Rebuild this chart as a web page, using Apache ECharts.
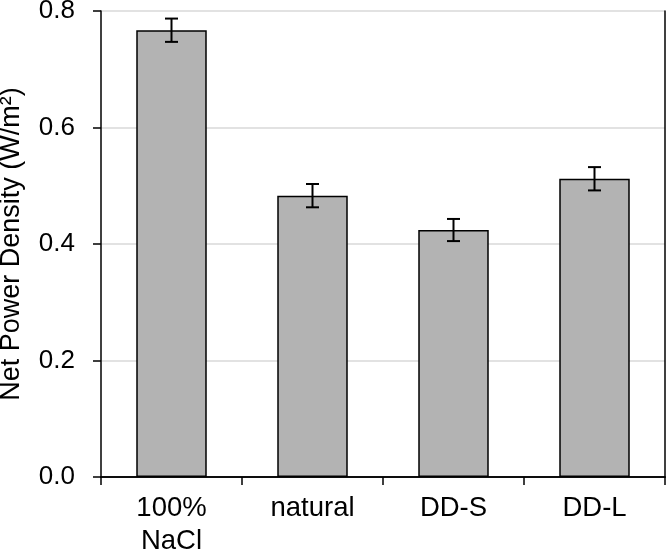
<!DOCTYPE html>
<html><head><meta charset="utf-8">
<script src="https://cdn.jsdelivr.net/npm/echarts@6/dist/echarts.min.js"></script>
<style>html,body{margin:0;padding:0;background:#fff}#c{width:667px;height:553px}</style>
</head><body><div id="c"></div>
<script>
const categories = ['100%\nNaCl', 'natural', 'DD-S', 'DD-L'];
const values = [0.767, 0.483, 0.424, 0.512];
const errors = [0.020, 0.020, 0.019, 0.020];
const yTicks = [0, 0.2, 0.4, 0.6, 0.8];

const chart = echarts.init(document.getElementById('c'));
const font = '"Liberation Sans", Arial, sans-serif';
const hidden = {axisLabel: {show: false}, axisTick: {show: false}, splitLine: {show: false}};
chart.setOption({
  animation: false,
  grid: {left: 101, right: 2, top: 11, bottom: 76, containLabel: false, outerBoundsMode: 'none'},
  xAxis: [{
    type: 'category', data: categories,
    axisLine: {lineStyle: {color: '#000', width: 1.5}},
    axisTick: {show: true, length: 8, lineStyle: {color: '#000', width: 1.5}},
    axisLabel: {color: '#000', fontSize: 27.5, fontFamily: font, margin: 15, lineHeight: 33, interval: 0}
  }, Object.assign({
    type: 'category', data: categories, position: 'top',
    axisLine: {show: true, lineStyle: {color: '#000', width: 1.5}}
  }, hidden)],
  yAxis: [{
    type: 'value', min: yTicks[0], max: yTicks[yTicks.length - 1], interval: 0.2,
    name: 'Net Power Density (W/m²)', nameLocation: 'middle', nameGap: 76,
    nameTextStyle: {color: '#000', fontSize: 27, fontFamily: font},
    axisLine: {show: true, lineStyle: {color: '#000', width: 1.5}},
    axisTick: {show: true, length: 8, lineStyle: {color: '#000', width: 1.5}},
    axisLabel: {color: '#000', fontSize: 26, fontFamily: font, margin: 26, formatter: v => v.toFixed(1)},
    splitLine: {show: true, lineStyle: {color: '#d9d9d9', width: 1.5}}
  }, Object.assign({
    type: 'value', min: yTicks[0], max: yTicks[yTicks.length - 1], interval: 0.2, position: 'right',
    axisLine: {show: true, lineStyle: {color: '#000', width: 1.5}}
  }, hidden)],
  series: [
    {
      type: 'bar', data: values, barWidth: '50%',
      itemStyle: {color: '#b3b3b3', borderColor: '#000', borderWidth: 1.5}
    },
    {
      type: 'custom', z: 10,
      data: values.map((v, i) => [i, v - errors[i], v + errors[i]]),
      renderItem: function (params, api) {
        const lo = api.coord([api.value(0), api.value(1)]);
        const hi = api.coord([api.value(0), api.value(2)]);
        const hw = 6.5;
        const st = {stroke: '#000', lineWidth: 2};
        return {type: 'group', children: [
          {type: 'line', shape: {x1: lo[0], y1: lo[1], x2: hi[0], y2: hi[1]}, style: st},
          {type: 'line', shape: {x1: lo[0] - hw, y1: lo[1], x2: lo[0] + hw, y2: lo[1]}, style: st},
          {type: 'line', shape: {x1: hi[0] - hw, y1: hi[1], x2: hi[0] + hw, y2: hi[1]}, style: st}
        ]};
      }
    }
  ]
});
</script></body></html>
